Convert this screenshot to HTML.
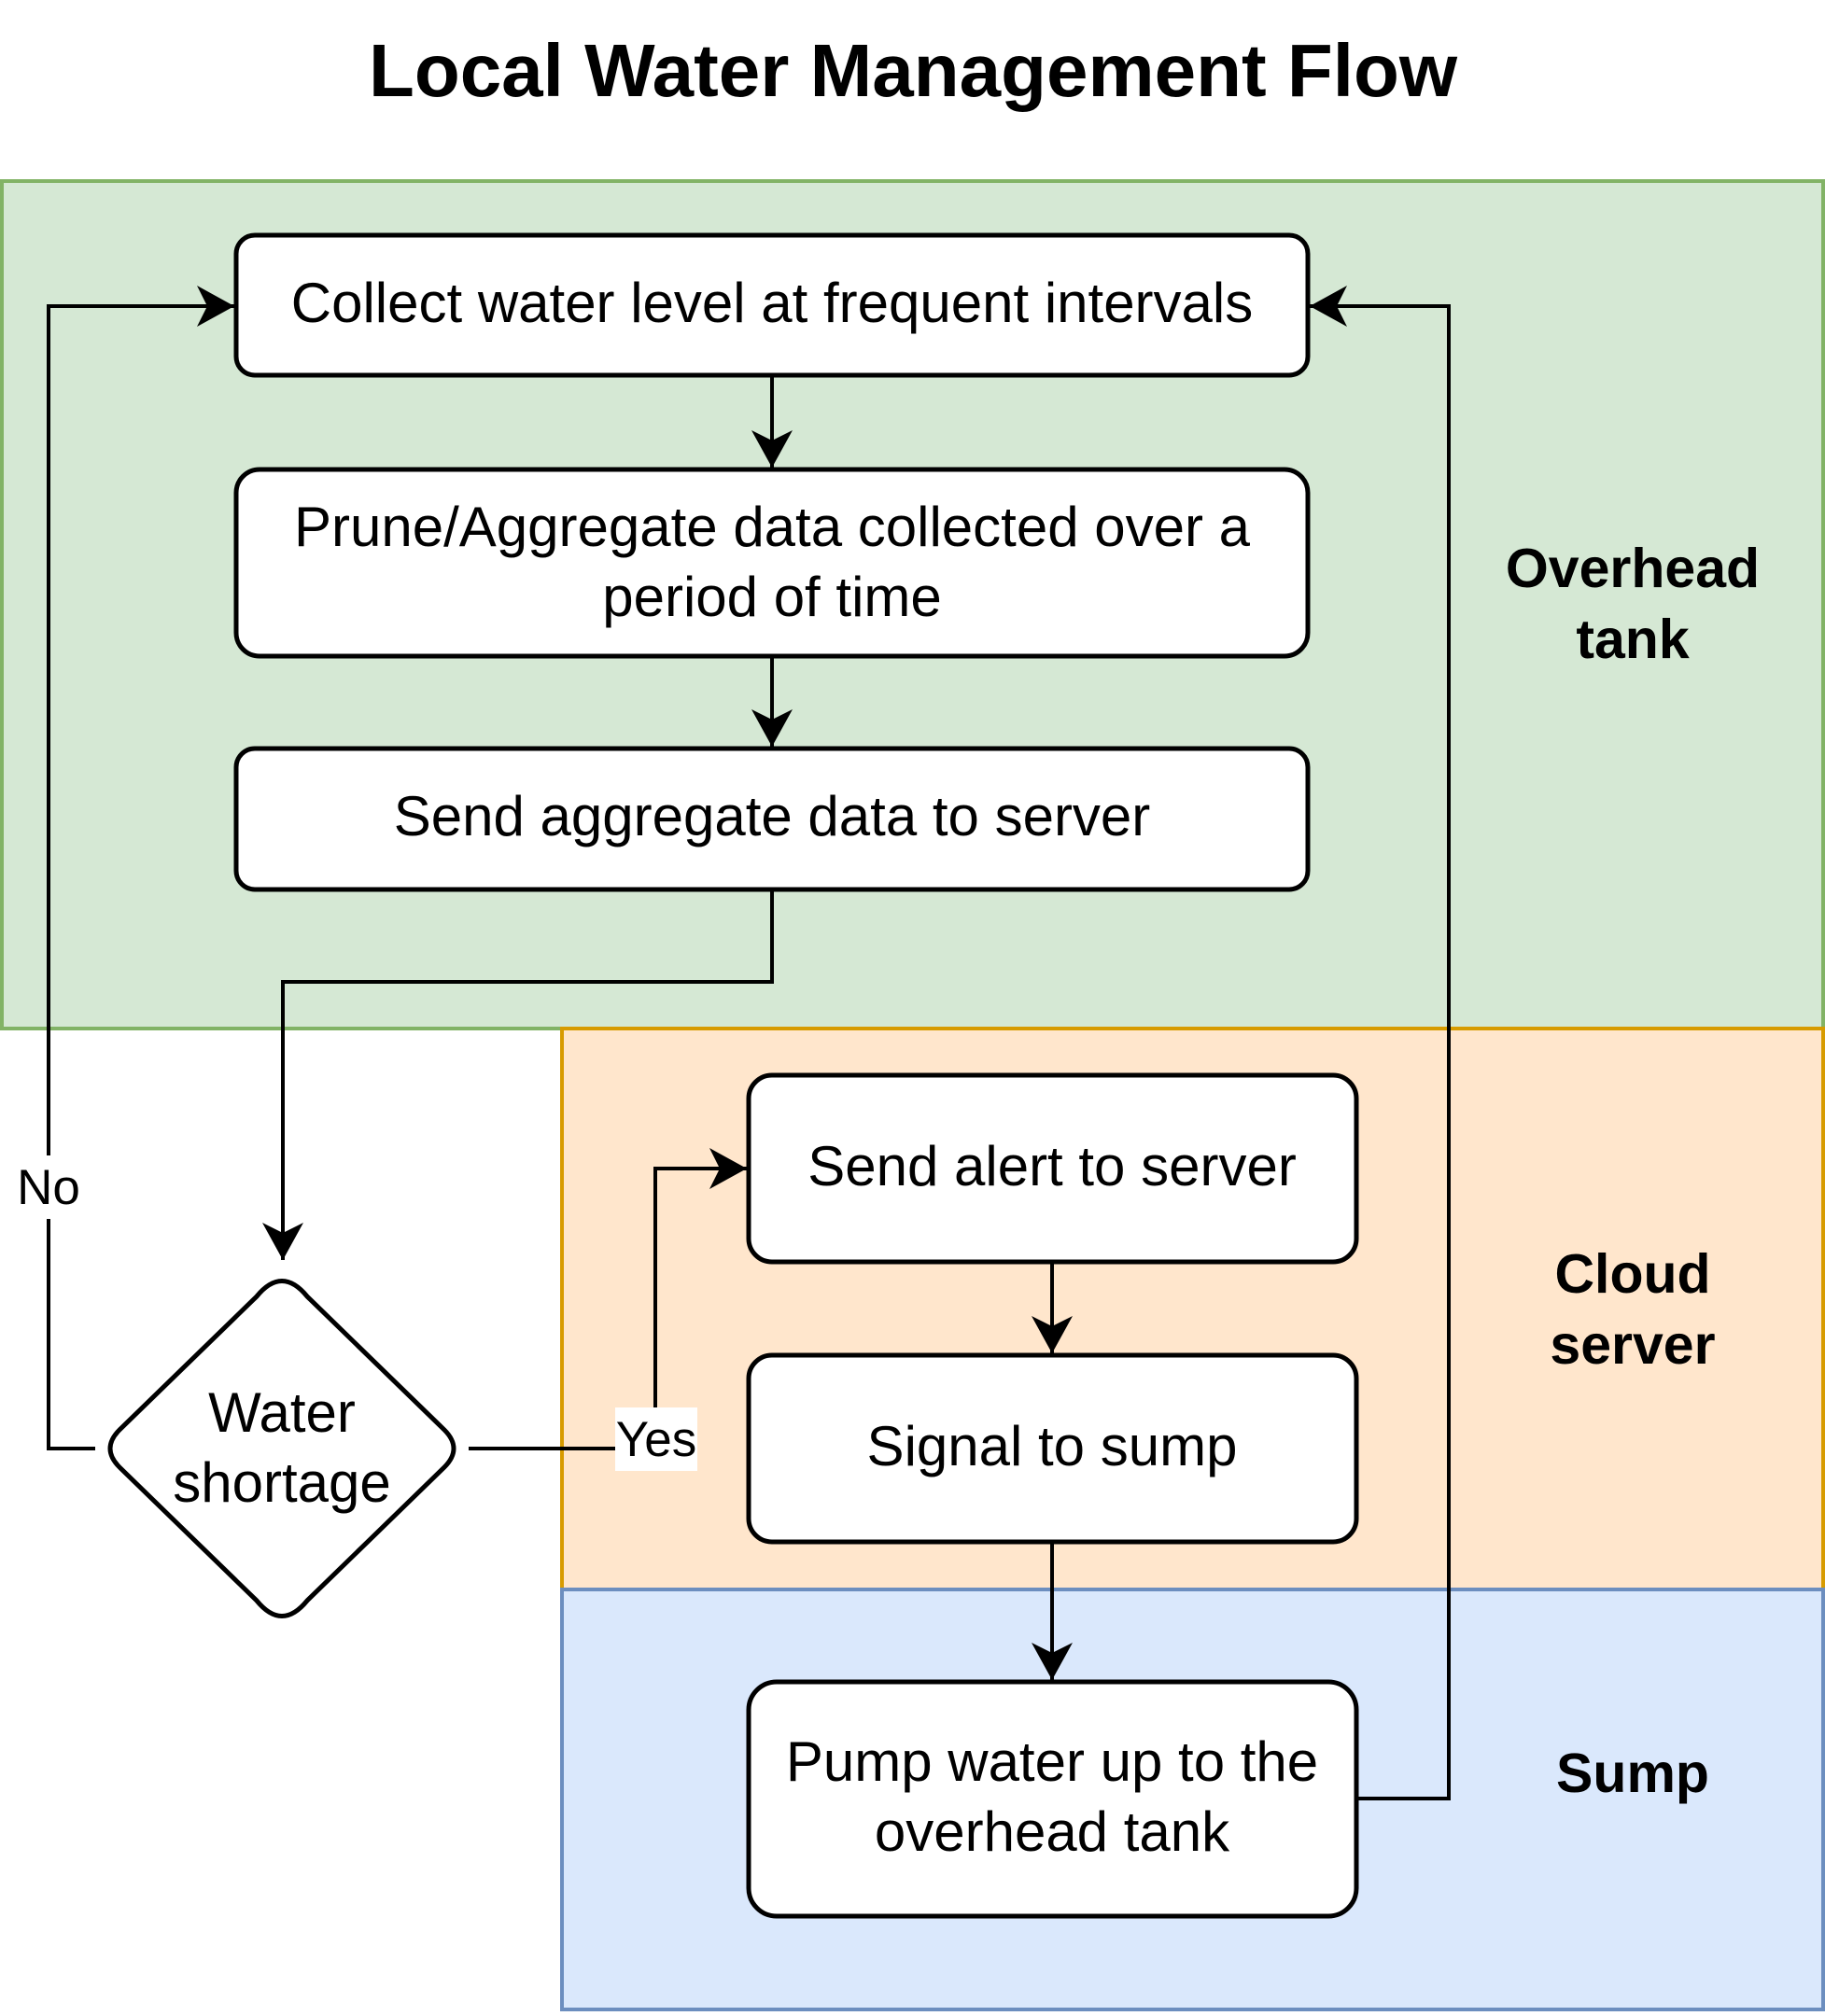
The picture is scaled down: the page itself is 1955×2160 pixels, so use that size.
<!DOCTYPE html>
<html><head><meta charset="utf-8"><style>html,body{margin:0;padding:0;background:#fff}svg{display:block}</style></head>
<body>
<svg width="1955" height="2160" viewBox="0 0 1955 2160" xmlns="http://www.w3.org/2000/svg" font-family="'Liberation Sans', Arial, sans-serif">
<defs>
<marker id="a" markerUnits="userSpaceOnUse" markerWidth="50" markerHeight="50" refX="40" refY="22" orient="auto">
<path d="M0,0 L40,22 L0,44 L11,22 Z" fill="#000"/>
</marker>
</defs>
<rect width="1955" height="2160" fill="#fff"/>
<text x="978" y="103" font-size="80" font-weight="bold" text-anchor="middle">Local Water Management Flow</text>
<rect x="2" y="194" width="1951" height="908" fill="#d5e8d4" stroke="#82b366" stroke-width="4"/>
<rect x="602" y="1102" width="1351" height="601" fill="#ffe6cc" stroke="#d79b00" stroke-width="4"/>
<rect x="602" y="1703" width="1351" height="450" fill="#dae8fc" stroke="#6c8ebf" stroke-width="4"/>
<g font-size="59" font-weight="bold" text-anchor="middle">
<text x="1749" y="629">Overhead</text><text x="1749" y="705">tank</text>
<text x="1749" y="1385">Cloud</text><text x="1749" y="1461">server</text>
<text x="1749" y="1920">Sump</text>
</g>
<g fill="#fff" stroke="#000" stroke-width="5">
<rect x="253" y="252" width="1148" height="150" rx="20"/>
<rect x="253" y="503" width="1148" height="200" rx="25"/>
<rect x="253" y="802" width="1148" height="151" rx="20"/>
<rect x="802" y="1152" width="651" height="200" rx="25"/>
<rect x="802" y="1452" width="651" height="200" rx="25"/>
<rect x="802" y="1802" width="651" height="251" rx="30"/>
<path d="M275,1389 Q302,1356 329,1389 L476,1532 Q496,1552 476,1572 L329,1715 Q302,1748 275,1715 L128,1572 Q108,1552 128,1532 Z"/>
</g>
<g font-size="60" text-anchor="middle">
<text x="827" y="345">Collect water level at frequent intervals</text>
<text x="827" y="585">Prune/Aggregate data collected over a</text>
<text x="827" y="660">period of time</text>
<text x="827" y="895">Send aggregate data to server</text>
<text x="1127" y="1270">Send alert to server</text>
<text x="1127" y="1570">Signal to sump</text>
<text x="1127" y="1908">Pump water up to the</text>
<text x="1127" y="1983">overhead tank</text>
<text x="302" y="1534">Water</text>
<text x="302" y="1609">shortage</text>
</g>
<g fill="none" stroke="#000" stroke-width="4">
<path d="M827,402 V501" marker-end="url(#a)"/>
<path d="M827,703 V800" marker-end="url(#a)"/>
<path d="M827,953 V1052 H303 V1350" marker-end="url(#a)"/>
<path d="M102,1552 H52 V328 H251" marker-end="url(#a)"/>
<path d="M502,1552 H702 V1252 H800" marker-end="url(#a)"/>
<path d="M1127,1352 V1450" marker-end="url(#a)"/>
<path d="M1127,1652 V1800" marker-end="url(#a)"/>
<path d="M1453,1927 H1552 V328 H1403" marker-end="url(#a)"/>
</g>
<rect x="20" y="1238" width="64" height="68" fill="#fff"/>
<text x="52" y="1290" font-size="53" text-anchor="middle">No</text>
<rect x="659" y="1508" width="88" height="68" fill="#fff"/>
<text x="703" y="1560" font-size="53" text-anchor="middle">Yes</text>
</svg>
</body></html>
